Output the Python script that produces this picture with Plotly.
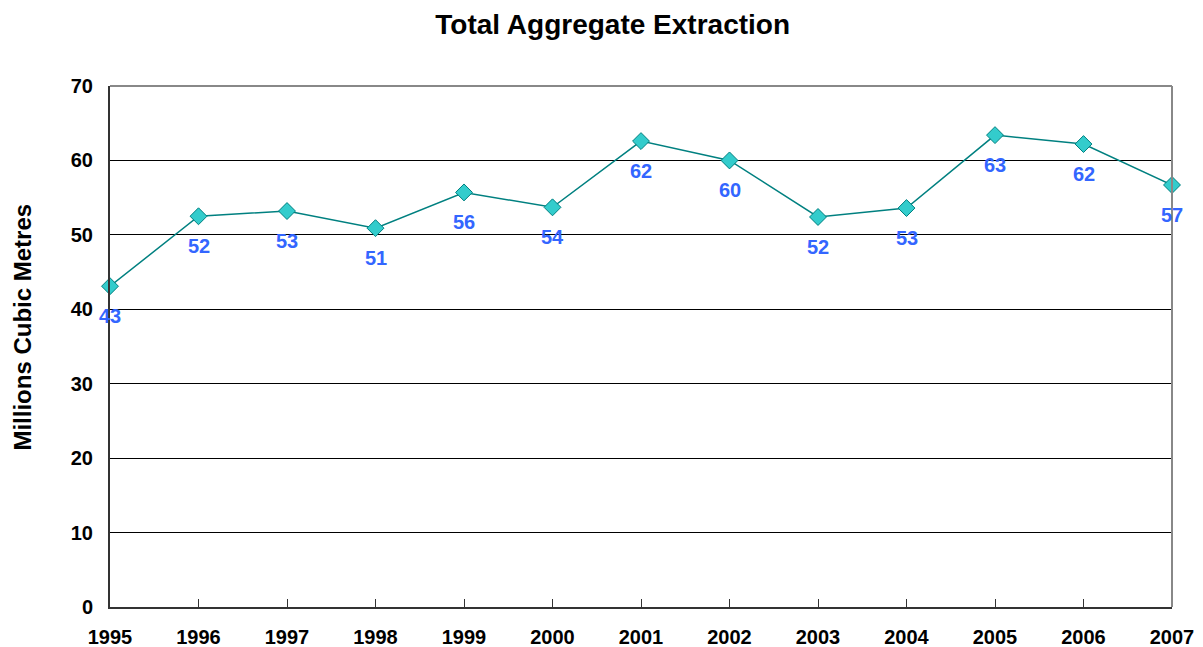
import plotly.graph_objects as go

years = [1995, 1996, 1997, 1998, 1999, 2000, 2001, 2002, 2003, 2004, 2005, 2006, 2007]
extraction = [43.1, 52.5, 53.2, 50.9, 55.7, 53.7, 62.6, 60.0, 52.4, 53.6, 63.4, 62.2, 56.7]
labels = ["43", "52", "53", "51", "56", "54", "62", "60", "52", "53", "63", "62", "57"]
y_ticks = [0, 10, 20, 30, 40, 50, 60, 70]

font_family = "Arial, Liberation Sans, sans-serif"

fig = go.Figure()
fig.add_trace(go.Scatter(
    x=years, y=extraction, mode="lines+markers",
    line=dict(color="#008080", width=1.5),
    marker=dict(symbol="diamond", size=13, color="#33CCCC",
                line=dict(color="#008080", width=1)),
    cliponaxis=False, showlegend=False,
))

for x, y, t in zip(years, extraction, labels):
    fig.add_annotation(x=x, y=y, text=t, showarrow=False, yshift=-30,
                       font=dict(family=font_family, size=20, color="#3366FF", weight="bold"))

# y axis title, placed a little above the middle like the original
fig.add_annotation(text="Millions Cubic Metres", xref="paper", yref="paper",
                   x=-0.0825, y=0.537, textangle=-90, showarrow=False,
                   xanchor="center", yanchor="middle",
                   font=dict(family=font_family, size=24, color="black", weight="bold"))

# gray top and right border of the plot area
fig.add_shape(type="line", xref="paper", yref="paper", x0=0, x1=1, y0=1, y1=1,
              line=dict(color="#888888", width=2), layer="above")
fig.add_shape(type="line", xref="paper", yref="paper", x0=1, x1=1, y0=0, y1=1,
              line=dict(color="#888888", width=2), layer="above")

# page body adds an 8px margin, so the figure is a bit smaller than the window
fig.update_layout(
    width=1195, height=639,
    margin=dict(l=102, r=31, t=78, b=40),
    plot_bgcolor="white", paper_bgcolor="white",
    title=dict(text="Total Aggregate Extraction", x=0.506, xanchor="center", y=0.975, yanchor="middle",
               font=dict(family=font_family, size=28, color="black", weight="bold")),
    xaxis=dict(range=[1995, 2007], tickmode="array", tickvals=years,
               ticks="inside", ticklen=8, tickcolor="#333333",
               showline=True, linecolor="#333333", linewidth=2,
               showgrid=False, zeroline=False, ticklabelstandoff=11, automargin=False,
               tickfont=dict(family=font_family, size=20, color="black", weight="bold")),
    yaxis=dict(range=[0, 70], tickmode="array", tickvals=y_ticks,
               showline=True, linecolor="#333333", linewidth=2,
               showgrid=True, gridcolor="black", gridwidth=1, zeroline=False,
               ticks="", ticklabelstandoff=11, automargin=False,
               tickfont=dict(family=font_family, size=20, color="black", weight="bold")),
)

fig.write_html("out.html")
